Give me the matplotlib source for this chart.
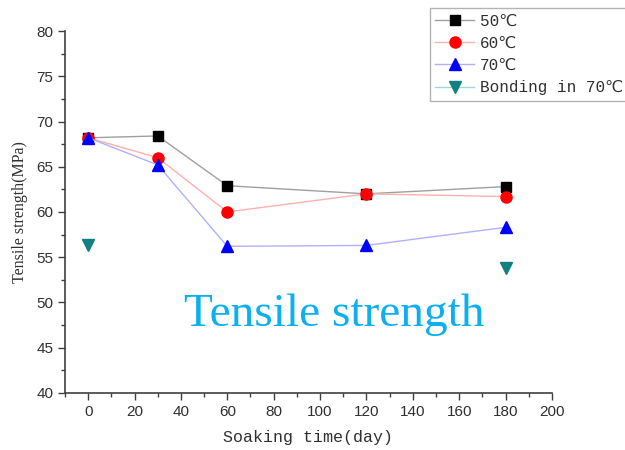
import matplotlib
matplotlib.use("Agg")
import matplotlib.pyplot as plt
from matplotlib.lines import Line2D
from matplotlib.ticker import MultipleLocator

# soaking time (days) and tensile strength (MPa)
days = [0, 30, 60, 120, 180]
strength_50 = [68.2, 68.4, 62.9, 62.0, 62.8]
strength_60 = [68.2, 66.0, 60.0, 62.0, 61.7]
strength_70 = [68.2, 65.2, 56.2, 56.3, 58.3]
bonding_days = [0, 180]
bonding_70 = [56.4, 53.8]

MONO = ["Liberation Mono", "DejaVu Sans"]

fig = plt.figure(figsize=(6.25, 4.5), dpi=100)
ax = fig.add_axes([0.104, 0.127, 0.779, 0.804])

h50, = ax.plot(days, strength_50, color="#a0a0a0", lw=1, marker="s", ms=7,
               mfc="black", mec="black", label="50℃")
h60, = ax.plot(days, strength_60, color="#ffb0b0", lw=1, marker="o", ms=8,
               mfc="red", mec="red", label="60℃")
h70, = ax.plot(days, strength_70, color="#b0b0ff", lw=1, marker="^", ms=8,
               mfc="blue", mec="blue", label="70℃")
ax.plot(bonding_days, bonding_70, ls="none", marker="v", ms=8,
        mfc="#108080", mec="#108080")
# legend entry for the bonding points keeps a faint line like the others
hb = Line2D([], [], color="#a0d8d8", lw=1, marker="v", ms=8,
            mfc="#108080", mec="#108080", label="Bonding in 70℃")

ax.set_xlim(-10, 200)
ax.set_ylim(40, 80)
ax.xaxis.set_major_locator(MultipleLocator(20))
ax.xaxis.set_minor_locator(MultipleLocator(10))
ax.yaxis.set_major_locator(MultipleLocator(5))
ax.yaxis.set_minor_locator(MultipleLocator(2.5))

for side in ("top", "right"):
    ax.spines[side].set_visible(False)
for side in ("left", "bottom"):
    ax.spines[side].set_color("#404040")
    ax.spines[side].set_linewidth(1.2)

ax.tick_params(which="major", direction="out", length=5, width=1, color="#404040",
               labelsize=11, labelcolor="#303030")
ax.tick_params(which="minor", direction="out", length=3, width=1, color="#404040")
for lab in ax.get_xticklabels() + ax.get_yticklabels():
    lab.set_family("Liberation Sans")

ax.set_xlabel("Soaking time(day)", family=MONO, fontsize=12, color="#303030", labelpad=8)
ax.set_ylabel("Tensile strength(MPa)", family="Liberation Serif", fontsize=11.5,
              color="#303030", labelpad=6)

ax.text(106, 48.6, "Tensile strength", family="Liberation Serif", fontsize=34,
        color="#0cb0f0", ha="center", va="center")

leg = ax.legend(handles=[h50, h60, h70, hb], loc="upper left",
                bbox_to_anchor=(0.675, 1.0), bbox_transform=fig.transFigure,
                prop={"family": MONO, "size": 11.5}, frameon=True, fancybox=False,
                handlelength=2.4, handletextpad=0.4, borderpad=0.35,
                labelspacing=0.45)
leg.get_frame().set_edgecolor("#a0a0a0")
leg.get_frame().set_linewidth(1)
for t in leg.get_texts():
    t.set_color("#303030")

fig.savefig("out.png", dpi=100)
